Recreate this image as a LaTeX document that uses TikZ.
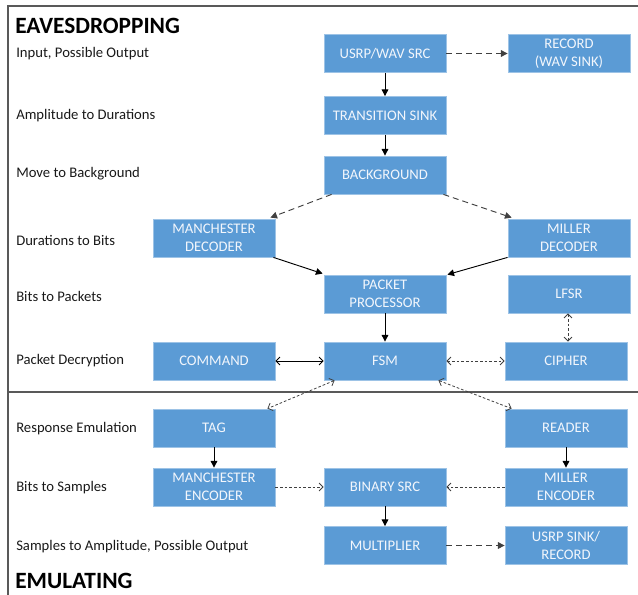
\documentclass[tikz,border=0pt]{standalone}
\usepackage{fontspec}
\setmainfont{Carlito}
\usetikzlibrary{arrows.meta,calc}
\definecolor{boxblue}{HTML}{5B9BD5}
\definecolor{boxedge}{HTML}{9DC3E6}
\definecolor{boxtext}{HTML}{F2F6FC}
\definecolor{frameline}{HTML}{595959}
\tikzset{
  blk/.style={rectangle, fill=boxblue, draw=boxedge, line width=0.6pt, minimum width=91.5pt, minimum height=28.5pt, inner sep=0pt, align=center, text=boxtext, font=\fontsize{11}{13.5}\selectfont},
  lbl/.style={anchor=west, inner sep=0pt, font=\fontsize{11}{13.5}\selectfont, text=black!90},
  ttl/.style={anchor=west, inner sep=0pt, font=\fontsize{17.5}{20}\selectfont\bfseries},
  solidarr/.style={-{Triangle[length=5pt,width=5pt]}, line width=0.7pt},
  dasharr/.style={-{Triangle[length=5pt,width=5pt]}, line width=0.7pt, dash pattern=on 4.5pt off 3pt, draw=black!75},
  openboth/.style={{Straight Barb[length=3pt,width=6pt]}-{Straight Barb[length=3pt,width=6pt]}, line width=0.6pt},
  dotboth/.style={openboth, dash pattern=on 2pt off 1.5pt, draw=black!75},
  dotarr/.style={-{Straight Barb[length=3pt,width=6pt]}, line width=0.6pt, dash pattern=on 2pt off 1.5pt, draw=black!75}
}
\begin{document}
\begin{tikzpicture}[x=0.75pt,y=-0.75pt]
\useasboundingbox (0,0) rectangle (638,595);
% frame
\draw[frameline, line width=0.9pt] (638,6) -- (8,6) -- (8,595);
\draw[frameline, line width=0.9pt] (8,392) -- (638,392);
% titles and labels
\node[ttl] (teav) at (15,26) {EAVESDROPPING};
\node[ttl] (temu) at (15,581) {EMULATING};
\node[lbl] (l1) at (16,54) {Input, Possible Output};
\node[lbl] (l2) at (16,116) {Amplitude to Durations};
\node[lbl] (l3) at (16,174) {Move to Background};
\node[lbl] (l4) at (16,240) {Durations to Bits};
\node[lbl] (l5) at (16,296) {Bits to Packets};
\node[lbl] (l6) at (16,361) {Packet Decryption};
\node[lbl] (l7) at (16,429) {Response Emulation};
\node[lbl] (l8) at (16,488) {Bits to Samples};
\node[lbl] (l9) at (16,547) {Samples to Amplitude, Possible Output};
% boxes
\node[blk] (usrp) at (385,53.5) {USRP/WAV SRC};
\node[blk] (record) at (569,53.5) {RECORD\\(WAV SINK)};
\node[blk] (trans) at (385,115.5) {TRANSITION SINK};
\node[blk] (bg) at (385,175) {BACKGROUND};
\node[blk] (mandec) at (214,238) {MANCHESTER\\DECODER};
\node[blk] (mildec) at (569,238) {MILLER\\DECODER};
\node[blk] (pkt) at (385,294) {PACKET\\PROCESSOR};
\node[blk] (lfsr) at (569,294) {LFSR};
\node[blk] (cmd) at (214,361) {COMMAND};
\node[blk] (fsm) at (385,361) {FSM};
\node[blk] (cipher) at (566,361) {CIPHER};
\node[blk] (tag) at (214,428) {TAG};
\node[blk] (reader) at (566,428) {READER};
\node[blk] (manenc) at (214,487) {MANCHESTER\\ENCODER};
\node[blk] (bin) at (385,487) {BINARY SRC};
\node[blk] (milenc) at (566,487) {MILLER\\ENCODER};
\node[blk] (mult) at (385,545.5) {MULTIPLIER};
\node[blk] (usink) at (566,545.5) {USRP SINK/\\RECORD};
% connectors
\draw[solidarr] (usrp) -- (trans);
\draw[solidarr] (trans) -- (bg);
\draw[dasharr] (usrp) -- (record);
\draw[dasharr] ($(bg.south west)+(8,0)$) -- ($(mandec.north east)+(-5,-1)$);
\draw[dasharr] ($(bg.south east)+(-3,0)$) -- ($(mildec.north west)+(4,-1)$);
\draw[solidarr] ($(mandec.south east)+(-2,0)$) -- ($(pkt.north west)+(-1,-1)$);
\draw[solidarr] (mildec.south west) -- ($(pkt.north east)+(1,0)$);
\draw[solidarr] (pkt) -- (fsm);
\draw[openboth] (cmd) -- (fsm);
\draw[dotboth] (fsm) -- (cipher);
\draw[dotboth] (lfsr.south -| 568,0) -- (cipher.north -| 568,0);
\draw[dotboth] ($(fsm.south west)+(11,0)$) -- ($(tag.north east)+(-8,0)$);
\draw[dotboth] ($(fsm.south east)+(-8,0)$) -- ($(reader.north west)+(7,0)$);
\draw[solidarr] (tag) -- (manenc);
\draw[solidarr] (reader) -- (milenc);
\draw[dotarr] (manenc) -- (bin);
\draw[dotarr] (milenc) -- (bin);
\draw[solidarr] (bin) -- (mult);
\draw[dasharr] (mult) -- (usink);
\end{tikzpicture}
\end{document}
